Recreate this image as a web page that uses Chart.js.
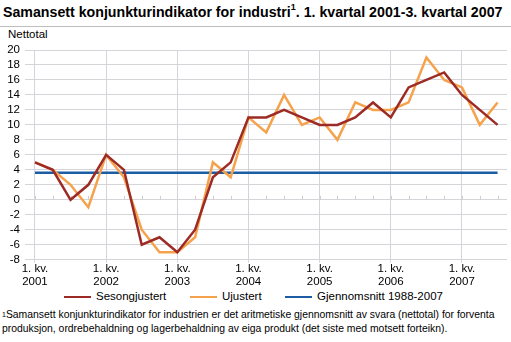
<!DOCTYPE html>
<html><head><meta charset="utf-8">
<script src="https://cdn.jsdelivr.net/npm/chart.js@4.4.1/dist/chart.umd.min.js"></script>
<style>
html,body{margin:0;padding:0;background:#fff;}
body{width:511px;height:342px;position:relative;overflow:hidden;font-family:"Liberation Sans",Arial,sans-serif;color:#000;}
#title{position:absolute;left:3px;top:4px;font-weight:bold;font-size:14.2px;white-space:nowrap;}
#title sup{font-size:9px;vertical-align:top;position:relative;top:-2px;}
#rule{position:absolute;left:0;top:26px;width:511px;height:1px;background:#bdbdbd;}
#unit{position:absolute;left:8px;top:28px;font-size:11.5px;}
#wrap{position:absolute;left:0;top:30px;width:511px;height:258px;}
#legend{position:absolute;top:290px;left:0;width:511px;height:14px;font-size:11.5px;}
.li{position:absolute;top:0;white-space:nowrap;}
.sw{display:inline-block;width:27px;height:2.5px;vertical-align:middle;margin-right:5px;position:relative;top:0px;}
#foot{position:absolute;left:2px;top:308px;font-size:10.4px;line-height:14px;white-space:nowrap;}
#foot sup{font-size:7px;vertical-align:top;}
</style></head>
<body>
<div id="title">Samansett konjunkturindikator for industri<sup>1</sup>. 1. kvartal 2001-3. kvartal 2007</div>
<div id="rule"></div>
<div id="unit">Nettotal</div>
<div id="wrap"><canvas id="c"></canvas></div>
<div id="legend"></div>
<div id="foot"><sup>1</sup>Samansett konjunkturindikator for industrien er det aritmetiske gjennomsnitt av svara (nettotal) for forventa<br>produksjon, ordrebehaldning og lagerbehaldning av eiga produkt (det siste med motsett forteikn).</div>
<script>
const years = ["2001","2002","2003","2004","2005","2006","2007"];
const quarterLabel = "1. kv.";
const sesongjustert = [5,4,0,2, 6,4,-6,-5, -7,-4,3,5, 11,11,12,11, 10,10,11,13, 11,15,16,17, 14,12,10];
const ujustert = [5,4,2,-1, 6,3,-4,-7, -7,-5,5,3, 11,9,14,10, 11,8,13,12, 12,13,19,16, 15,10,13];
const gjennomsnitt = 3.6;
const seriesNames = ["Sesongjustert","Ujustert","Gjennomsnitt 1988-2007"];
const colors = ["#9c2b25","#f6a24c","#1b5ca3"];

const n = sesongjustert.length;
const toXY = arr => arr.map((v,i)=>({x:i,y:v}));
const avgLine = [{x:0,y:gjennomsnitt},{x:n-1,y:gjennomsnitt}];

// HTML legend built from series names/colours
const legendPos = [64,190,285];
const lg = document.getElementById('legend');
seriesNames.forEach((name,i)=>{
  const d = document.createElement('div');
  d.className='li'; d.style.left = legendPos[i]+'px';
  d.innerHTML = '<span class="sw" style="background:'+colors[i]+'"></span>'+name;
  lg.appendChild(d);
});

const quarterTicks = {
  id:'quarterTicks',
  beforeDatasetsDraw(chart){
    const {ctx, scales:{x,y}} = chart;
    const y0 = y.getPixelForValue(0);
    ctx.save();
    ctx.strokeStyle = '#cfcfd4';
    ctx.lineWidth = 1;
    for(let i=0;i<n;i++){
      const px = Math.round(x.getPixelForValue(i))+0.5;
      ctx.beginPath(); ctx.moveTo(px,y0); ctx.lineTo(px,y0-4); ctx.stroke();
    }
    ctx.restore();
  }
};

const FONT = "'Liberation Sans', Arial, sans-serif";
new Chart(document.getElementById('c'),{
  type:'line',
  data:{datasets:[
    {label:seriesNames[0],data:toXY(sesongjustert),borderColor:colors[0],backgroundColor:colors[0],borderWidth:2.5,pointRadius:0,tension:0,order:1},
    {label:seriesNames[1],data:toXY(ujustert),borderColor:colors[1],backgroundColor:colors[1],borderWidth:2.5,pointRadius:0,tension:0,order:2},
    {label:seriesNames[2],data:avgLine,borderColor:colors[2],backgroundColor:colors[2],borderWidth:2.5,pointRadius:0,tension:0,order:3}
  ]},
  options:{
    responsive:true,maintainAspectRatio:false,animation:false,
    layout:{padding:{top:20,right:4,left:0,bottom:0}},
    plugins:{legend:{display:false},tooltip:{enabled:false}},
    scales:{
      x:{type:'linear',min:-0.56,max:n-1+0.53,
        afterBuildTicks(s){ s.ticks = years.map((_,k)=>({value:k*4})); },
        ticks:{autoSkip:false,maxRotation:0,padding:0,color:'#000',font:{family:FONT,size:11.5,lineHeight:1.1},
          callback:(v)=>[quarterLabel, years[v/4]]},
        grid:{color:'#d4d4d9',lineWidth:1,drawTicks:true,tickLength:3},
        border:{display:false}
      },
      y:{min:-8,max:20,
        afterFit(s){ s.width = 25; },
        ticks:{stepSize:2,autoSkip:false,padding:5,color:'#000',font:{family:FONT,size:11.5}},
        grid:{color:'#d4d4d9',lineWidth:1,drawTicks:false},
        border:{display:false}
      }
    }
  },
  plugins:[quarterTicks]
});
</script>
</body></html>
